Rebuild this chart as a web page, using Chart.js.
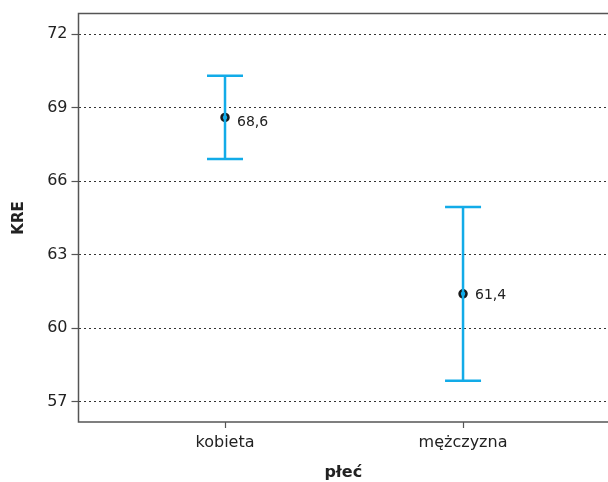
<!DOCTYPE html>
<html><head><meta charset="utf-8">
<script src="https://cdn.jsdelivr.net/npm/chart.js@4"></script>
<style>html,body{margin:0;padding:0;background:#fff}#wrap{width:608px;height:482px}</style>
</head>
<body><div id="wrap"><canvas id="c" width="608" height="482"></canvas></div>
<script>
const categories = ['kobieta', 'mężczyzna'];
const means = [68.6, 61.4];
const lower = [66.9, 57.85];
const upper = [70.3, 64.95];
const meanLabels = ['68,6', '61,4'];
const yTicks = [57, 60, 63, 66, 69, 72];
const xTitle = 'płeć';
const yTitle = 'KRE';

const FONT = '"DejaVu Sans", sans-serif';
const BLUE = '#12ABE8';
const FRAME = '#555555';

const datasets = [];
categories.forEach((c, i) => {
  datasets.push({
    type: 'line',
    data: [{x: i, y: lower[i]}, {x: i, y: upper[i]}],
    borderColor: BLUE, borderWidth: 2.5,
    pointStyle: 'line', pointRadius: 18, pointBorderWidth: 2.5,
    pointBorderColor: BLUE, pointHoverRadius: 18,
    showLine: true, fill: false
  });
});
datasets.push({
  type: 'scatter',
  data: means.map((m, i) => ({x: i, y: m})),
  pointRadius: 3.5, pointBorderWidth: 2.5,
  pointBorderColor: '#1a1a1a', pointBackgroundColor: BLUE
});

const labelDy = [9, 5];
const overlay = {
  id: 'overlay',
  afterDraw(chart) {
    const {ctx, chartArea: a, scales} = chart;
    ctx.save();
    ctx.strokeStyle = FRAME; ctx.lineWidth = 1.5;
    ctx.beginPath();
    ctx.moveTo(a.right + 5, a.top); ctx.lineTo(a.left, a.top);
    ctx.lineTo(a.left, a.bottom); ctx.lineTo(a.right + 5, a.bottom);
    ctx.stroke();
    ctx.fillStyle = '#222';
    ctx.font = '14px ' + FONT;
    ctx.textBaseline = 'alphabetic'; ctx.textAlign = 'left';
    means.forEach((m, i) => {
      const px = scales.x.getPixelForValue(i);
      const py = scales.y.getPixelForValue(m);
      ctx.fillText(meanLabels[i], px + 12, py + labelDy[i]);
    });
    ctx.font = 'bold 16px ' + FONT;
    ctx.textAlign = 'center';
    ctx.fillText(xTitle, (a.left + a.right) / 2, 477);
    ctx.font = 'bold 15px ' + FONT;
    ctx.translate(23, 218);
    ctx.rotate(-Math.PI / 2);
    ctx.fillText(yTitle, 0, 0);
    ctx.restore();
  }
};

new Chart(document.getElementById('c'), {
  type: 'scatter',
  data: {datasets},
  plugins: [overlay],
  options: {
    responsive: false, animation: false,
    layout: {autoPadding: false, padding: {top: 12.5, left: 0, right: 0, bottom: 0}},
    plugins: {legend: {display: false}, tooltip: {enabled: false}},
    scales: {
      x: {
        type: 'linear', min: -0.6155, max: 1.609,
        afterBuildTicks: s => { s.ticks = categories.map((c, i) => ({value: i})); },
        afterFit: s => { s.height = 60; },
        ticks: {callback: v => categories[v], color: '#222', font: {family: FONT, size: 16}, padding: 5},
        grid: {drawOnChartArea: false, drawTicks: true, tickLength: 6, tickColor: FRAME, tickWidth: 1.2},
        border: {display: false}
      },
      y: {
        min: 56.17, max: 72.84,
        afterBuildTicks: s => { s.ticks = yTicks.map(v => ({value: v})); },
        afterFit: s => { s.width = 78.5; },
        ticks: {color: '#222', font: {family: FONT, size: 16}, padding: 4},
        grid: {color: '#333', lineWidth: 1, tickLength: 7, tickColor: FRAME, tickWidth: 1.2, tickBorderDash: []},
        border: {display: false, dash: [2, 3]}
      }
    }
  }
});
</script>
</body></html>
